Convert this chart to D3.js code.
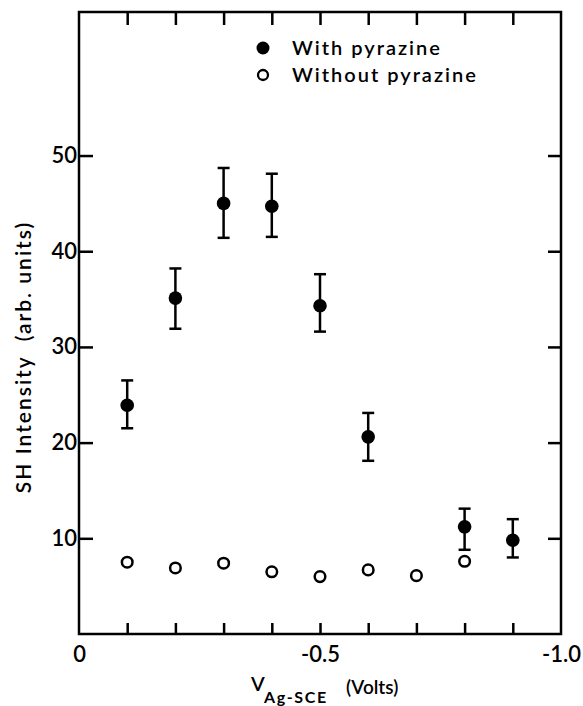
<!DOCTYPE html>
<html>
<head>
<meta charset="utf-8">
<script src="https://cdn.jsdelivr.net/npm/d3@7"></script>
<style>
  body { margin: 0; background: #fff; }
  svg text { font-family: Lato, "DejaVu Sans", sans-serif; fill: #000; }
</style>
</head>
<body>
<div id="screen"></div>
<script>
var width = 583;
var height = 706;
var plotLeft = 79, plotRight = 561, plotTop = 12, plotBottom = 634;

// with pyrazine (filled), error bars low/high
var withVolts = [-0.1, -0.2, -0.3, -0.4, -0.5, -0.6, -0.8, -0.9];
var withSH    = [23.9, 35.1, 45.0, 44.7, 34.3, 20.6, 11.2, 9.8];
var withLow   = [21.5, 31.9, 41.4, 41.5, 31.6, 18.1, 8.8, 8.0];
var withHigh  = [26.5, 38.2, 48.7, 48.1, 37.6, 23.1, 13.1, 12.0];

// without pyrazine (open)
var withoutVolts = [-0.1, -0.2, -0.3, -0.4, -0.5, -0.6, -0.7, -0.8];
var withoutSH    = [7.5, 6.9, 7.4, 6.5, 6.0, 6.7, 6.1, 7.6];

var xTicks = [-0.1, -0.2, -0.3, -0.4, -0.5, -0.6, -0.7, -0.8, -0.9];
var xLabels = [0, -0.5, -1.0];
var yTicks = [10, 20, 30, 40, 50];

var scaleX = d3.scaleLinear().domain([0, -1.0]).range([plotLeft, plotRight]);
var scaleY = d3.scaleLinear().domain([0, 65]).range([plotBottom, plotTop]);

var svg = d3.select("#screen").append("svg")
  .attr("width", width).attr("height", height);

// ticks, all pointing inward
var tickStyle = function(g){
  g.select(".domain").remove();
  g.selectAll(".tick line").attr("stroke", "#000").attr("stroke-width", 2.5);
};
svg.append("g").attr("transform", "translate(0," + plotBottom + ")")
  .call(d3.axisBottom(scaleX).tickValues(xTicks).tickSize(-11).tickFormat(""))
  .call(tickStyle);
svg.append("g").attr("transform", "translate(0," + plotTop + ")")
  .call(d3.axisTop(scaleX).tickValues(xTicks).tickSize(-13).tickFormat(""))
  .call(tickStyle);
svg.append("g").attr("transform", "translate(" + plotLeft + ",0)")
  .call(d3.axisLeft(scaleY).tickValues(yTicks).tickSize(-14).tickFormat(""))
  .call(tickStyle);
svg.append("g").attr("transform", "translate(" + plotRight + ",0)")
  .call(d3.axisRight(scaleY).tickValues(yTicks).tickSize(-13).tickFormat(""))
  .call(tickStyle);

// tick labels
var xLab = svg.append("g").attr("transform", "translate(0," + plotBottom + ")")
  .call(d3.axisBottom(scaleX).tickValues(xLabels).tickSize(0).tickPadding(12)
    .tickFormat(function(d){ return d === 0 ? "0" : d3.format(".1f")(d).replace("−", "-"); }));
xLab.select(".domain").remove();
xLab.selectAll("text").attr("font-size", 22).attr("font-weight", 600)
  .attr("font-family", "Lato, sans-serif");

var yLab = svg.append("g").attr("transform", "translate(" + plotLeft + ",0)")
  .call(d3.axisLeft(scaleY).tickValues(yTicks).tickSize(0).tickPadding(2));
yLab.select(".domain").remove();
yLab.selectAll("text").attr("font-size", 22).attr("font-weight", 600)
  .attr("font-family", "Lato, sans-serif");

// frame
svg.append("rect")
  .attr("x", plotLeft).attr("y", plotTop)
  .attr("width", plotRight - plotLeft).attr("height", plotBottom - plotTop)
  .attr("fill", "none").attr("stroke", "#000").attr("stroke-width", 2.5);

// error bars
var err = svg.append("g").attr("stroke", "#000").attr("stroke-width", 2.5);
withVolts.forEach(function(v, i){
  var cx = scaleX(v);
  err.append("line").attr("x1", cx).attr("x2", cx)
    .attr("y1", scaleY(withLow[i])).attr("y2", scaleY(withHigh[i]));
  err.append("line").attr("x1", cx - 6).attr("x2", cx + 6)
    .attr("y1", scaleY(withLow[i])).attr("y2", scaleY(withLow[i]));
  err.append("line").attr("x1", cx - 6).attr("x2", cx + 6)
    .attr("y1", scaleY(withHigh[i])).attr("y2", scaleY(withHigh[i]));
});

svg.selectAll("circle.with").data(withSH).enter().append("circle")
  .attr("class", "with")
  .attr("cx", function(d, i){ return scaleX(withVolts[i]); })
  .attr("cy", function(d){ return scaleY(d); })
  .attr("r", 6.8)
  .attr("fill", "#000");

svg.selectAll("circle.without").data(withoutSH).enter().append("circle")
  .attr("class", "without")
  .attr("cx", function(d, i){ return scaleX(withoutVolts[i]); })
  .attr("cy", function(d){ return scaleY(d); })
  .attr("r", 5.3)
  .attr("fill", "none").attr("stroke", "#000").attr("stroke-width", 2.5);

// legend
var legend = svg.append("g");
legend.append("circle").attr("cx", 263).attr("cy", 48).attr("r", 6.5).attr("fill", "#000");
legend.append("circle").attr("cx", 263).attr("cy", 75).attr("r", 5)
  .attr("fill", "none").attr("stroke", "#000").attr("stroke-width", 2.3);
legend.append("text").attr("x", 292).attr("y", 55).attr("font-size", 20).attr("font-weight", 600)
  .attr("letter-spacing", 2).text("With pyrazine");
legend.append("text").attr("x", 292).attr("y", 82).attr("font-size", 20).attr("font-weight", 600)
  .attr("letter-spacing", 2).text("Without pyrazine");

// axis titles
svg.append("text")
  .attr("transform", "translate(31,357) rotate(-90)")
  .attr("text-anchor", "middle").attr("font-size", 21).attr("font-weight", 600)
  .attr("letter-spacing", 2)
  .attr("xml:space", "preserve")
  .text("SH Intensity  (arb. units)");

var xt = svg.append("text").attr("font-weight", 600);
xt.append("tspan").attr("x", 251).attr("y", 691).attr("font-size", 20).text("V");
xt.append("tspan").attr("x", 264).attr("y", 703).attr("font-size", 16)
  .attr("font-weight", "bold").attr("letter-spacing", 1.6).text("Ag-SCE");
xt.append("tspan").attr("x", 346).attr("y", 694).attr("font-size", 19).text("(Volts)");
</script>
</body>
</html>
